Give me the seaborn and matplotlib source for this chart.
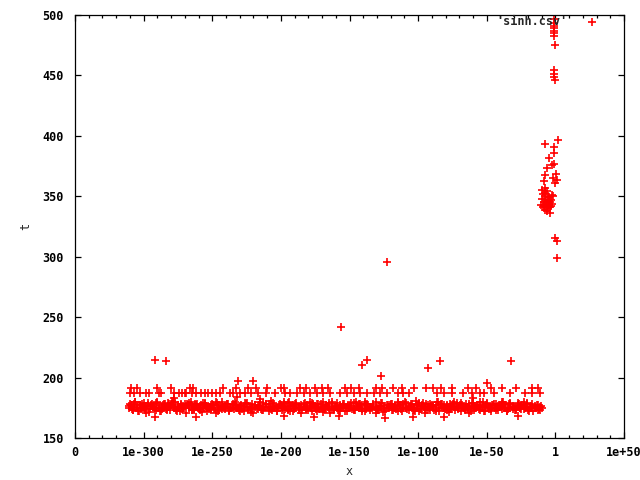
import numpy as np
import pandas as pd
import seaborn as sns
import matplotlib.pyplot as plt
from matplotlib.ticker import FixedLocator, MultipleLocator

# x is stored as log10(x): the axis runs from 1e-350 ("0") to 1e+50
tick_pos = [-350, -300, -250, -200, -150, -100, -50, 0, 50]
tick_labels = ["0", "1e-300", "1e-250", "1e-200", "1e-150", "1e-100", "1e-50", "1", "1e+50"]

# main band of timings
band_x = [-311, -310, -308, -307, -306, -304, -303, -302, -300, -299, -298, -297, -295, -294, -293, -291, -290, -289, -287, -286,
          -285, -284, -282, -281, -280, -278, -277, -276, -274, -273, -272, -271, -269, -268, -267, -265, -264, -263, -261, -260,
          -259, -258, -256, -255, -254, -252, -251, -250, -248, -247, -246, -245, -243, -242, -241, -239, -238, -237, -235, -234,
          -233, -232, -230, -229, -228, -226, -225, -224, -222, -221, -220, -219, -217, -216, -215, -213, -212, -211, -209, -208,
          -207, -206, -204, -203, -202, -200, -199, -198, -196, -195, -194, -193, -191, -190, -189, -187, -186, -185, -183, -182,
          -181, -180, -178, -177, -176, -174, -173, -172, -170, -169, -168, -167, -165, -164, -163, -161, -160, -159, -157, -156,
          -155, -154, -152, -151, -150, -148, -147, -146, -144, -143, -142, -141, -139, -138, -137, -135, -134, -133, -131, -130,
          -129, -128, -126, -125, -124, -122, -121, -120, -118, -117, -116, -115, -113, -112, -111, -109, -108, -107, -105, -104,
          -103, -102, -100, -99, -98, -96, -95, -94, -92, -91, -90, -89, -87, -86, -85, -83, -82, -81, -79, -78,
          -77, -76, -74, -73, -72, -70, -69, -68, -66, -65, -64, -63, -61, -60, -59, -57, -56, -55, -53, -52,
          -51, -50, -48, -47, -46, -44, -43, -42, -40, -39, -38, -37, -35, -34, -33, -31, -30, -29, -27, -26,
          -25, -24, -22, -21, -20, -18, -17, -16, -14, -13, -12, -11, -10]
band_t = [175, 178, 173, 176, 180, 172, 177, 174, 179, 175, 171, 177, 174, 178, 176, 173, 179, 175, 172, 177,
          176, 174, 179, 173, 177, 175, 180, 172, 176, 178, 174, 175, 171, 177, 179, 173, 176, 174, 178, 175,
          173, 177, 175, 179, 172, 176, 174, 178, 175, 171, 177, 173, 180, 176, 174, 178, 172, 175, 177, 174,
          178, 175, 172, 177, 174, 179, 176, 173, 175, 178, 171, 176, 174, 177, 180, 173, 175, 178, 172, 176,
          174, 179, 176, 172, 175, 177, 173, 178, 176, 174, 180, 172, 177, 175, 179, 173, 176, 171, 178, 174,
          177, 173, 175, 179, 176, 172, 178, 174, 176, 180, 173, 177, 175, 171, 178, 174, 176, 179, 172, 175,
          176, 178, 172, 175, 177, 174, 179, 173, 176, 178, 175, 172, 180, 174, 177, 173, 176, 178, 171, 175,
          173, 176, 179, 174, 172, 177, 175, 178, 173, 176, 174, 180, 177, 172, 175, 179, 174, 176, 178, 173,
          175, 172, 177, 179, 174, 176, 171, 178, 175, 173, 177, 176, 174, 180, 172, 178, 175, 177, 173, 176,
          178, 174, 176, 173, 179, 175, 172, 177, 174, 178, 176, 171, 175, 179, 173, 177, 174, 176, 180, 172,
          176, 179, 174, 172, 177, 175, 178, 173, 176, 174, 180, 177, 172, 175, 178, 174, 176, 173, 179, 175,
          174, 177, 175, 179, 173, 176, 178, 172, 175, 177, 174, 176, 175]

band2_x = [-309.5, -308, -306.5, -305, -303.5, -301, -299.5, -298, -296, -294.5,
           -292, -290.5, -288, -286.5, -285, -283, -281.5, -279, -277.5, -275,
           -273.5, -271, -269.5, -267, -265.5, -263, -261.5, -259, -257.5, -255,
           -253.5, -251, -249.5, -247, -245.5, -243, -241.5, -239, -237.5, -235,
           -233.5, -231, -229.5, -227, -225.5, -223, -221.5, -219, -217.5, -215,
           -213.5, -211, -209.5, -207, -205.5, -203, -201.5, -199, -197.5, -195,
           -193.5, -191, -189.5, -187, -185.5, -183, -181.5, -179, -177.5, -175,
           -173.5, -171, -169.5, -167, -165.5, -163, -161.5, -159, -157.5, -155,
           -153.5, -151, -149.5, -147, -145.5, -143, -141.5, -139, -137.5, -135,
           -133.5, -131, -129.5, -127, -125.5, -123, -121.5, -119, -117.5, -115,
           -113.5, -111, -109.5, -107, -105.5, -103, -101.5, -99, -97.5, -95,
           -93.5, -91, -89.5, -87, -85.5, -83, -81.5, -79, -77.5, -75,
           -73.5, -71, -69.5, -67, -65.5, -63, -61.5, -59, -57.5, -55,
           -53.5, -51, -49.5, -47, -45.5, -43, -41.5, -39, -37.5, -35,
           -33.5, -31, -29.5, -27, -25.5, -23, -21.5, -19, -17.5, -15,
           -13.5, -11, -10.5]
band2_t = [177.5, 173.5, 179.5, 175.5, 172.5, 178.5, 174.5, 176.5, 171.5, 177.5,
           174.5, 179.5, 172.5, 176.5, 178.5, 173.5, 175.5, 180.5, 174.5, 177.5,
           172.5, 176.5, 178.5, 174.5, 179.5, 173.5, 177.5, 175.5, 171.5, 178.5,
           175.5, 173.5, 177.5, 179.5, 172.5, 176.5, 174.5, 178.5, 173.5, 175.5,
           179.5, 174.5, 176.5, 172.5, 178.5, 175.5, 171.5, 177.5, 174.5, 176.5,
           173.5, 178.5, 175.5, 180.5, 174.5, 172.5, 177.5, 176.5, 179.5, 173.5,
           176.5, 172.5, 178.5, 174.5, 177.5, 175.5, 173.5, 179.5, 172.5, 176.5,
           178.5, 174.5, 171.5, 177.5, 175.5, 179.5, 173.5, 176.5, 174.5, 178.5,
           172.5, 177.5, 175.5, 173.5, 179.5, 174.5, 176.5, 172.5, 178.5, 175.5,
           174.5, 179.5, 173.5, 176.5, 171.5, 177.5, 175.5, 178.5, 174.5, 172.5,
           177.5, 175.5, 179.5, 173.5, 176.5, 174.5, 180.5, 172.5, 177.5, 175.5,
           173.5, 178.5, 176.5, 172.5, 179.5, 175.5, 174.5, 177.5, 171.5, 176.5,
           179.5, 174.5, 177.5, 175.5, 173.5, 178.5, 172.5, 176.5, 174.5, 179.5,
           175.5, 172.5, 178.5, 174.5, 177.5, 173.5, 176.5, 179.5, 175.5, 172.5,
           178.5, 176.5, 173.5, 177.5, 174.5, 179.5, 175.5, 172.5, 176.5, 174.5,
           177.5, 173.5, 176.5]

band3_x = [-310.7, -308.7, -306.7, -304.7, -302.7, -300.7, -298.7, -296.7, -294.7, -292.7,
           -290.7, -288.7, -286.7, -284.7, -282.7, -280.7, -278.7, -276.7, -274.7, -272.7,
           -270.7, -268.7, -266.7, -264.7, -262.7, -260.7, -258.7, -256.7, -254.7, -252.7,
           -250.7, -248.7, -246.7, -244.7, -242.7, -240.7, -238.7, -236.7, -234.7, -232.7,
           -230.7, -228.7, -226.7, -224.7, -222.7, -220.7, -218.7, -216.7, -214.7, -212.7,
           -210.7, -208.7, -206.7, -204.7, -202.7, -200.7, -198.7, -196.7, -194.7, -192.7,
           -190.7, -188.7, -186.7, -184.7, -182.7, -180.7, -178.7, -176.7, -174.7, -172.7,
           -170.7, -168.7, -166.7, -164.7, -162.7, -160.7, -158.7, -156.7, -154.7, -152.7,
           -150.7, -148.7, -146.7, -144.7, -142.7, -140.7, -138.7, -136.7, -134.7, -132.7,
           -130.7, -128.7, -126.7, -124.7, -122.7, -120.7, -118.7, -116.7, -114.7, -112.7,
           -110.7, -108.7, -106.7, -104.7, -102.7, -100.7, -98.7, -96.7, -94.7, -92.7,
           -90.7, -88.7, -86.7, -84.7, -82.7, -80.7, -78.7, -76.7, -74.7, -72.7,
           -70.7, -68.7, -66.7, -64.7, -62.7, -60.7, -58.7, -56.7, -54.7, -52.7,
           -50.7, -48.7, -46.7, -44.7, -42.7, -40.7, -38.7, -36.7, -34.7, -32.7,
           -30.7, -28.7, -26.7, -24.7, -22.7, -20.7, -18.7, -16.7, -14.7, -12.7]
band3_t = [176.2, 173.8, 178.2, 174.8, 177.2, 175.8, 173.2, 179.2, 176.8, 174.2,
           178.8, 175.2, 173.8, 177.8, 174.2, 176.2, 179.2, 173.2, 175.8, 177.2,
           174.8, 178.2, 176.2, 173.2, 177.8, 175.2, 174.2, 178.8, 176.8, 173.8,
           177.2, 174.2, 179.2, 175.8, 173.8, 176.8, 178.2, 174.8, 177.8, 175.2,
           173.2, 176.2, 174.8, 178.8, 175.8, 173.8, 177.2, 176.2, 174.2, 179.2,
           175.8, 178.2, 173.2, 176.8, 174.8, 177.8, 175.2, 173.8, 178.8, 176.2,
           174.2, 177.2, 175.8, 173.2, 179.2, 174.8, 176.8, 178.2, 173.8, 175.2,
           177.8, 173.8, 176.2, 178.8, 174.2, 175.8, 173.2, 177.2, 176.8, 174.8,
           175.2, 179.2, 174.2, 176.2, 177.8, 173.8, 178.2, 175.8, 174.8, 176.8,
           173.8, 176.8, 178.8, 174.8, 175.2, 177.2, 173.2, 176.2, 179.2, 174.2,
           178.2, 174.8, 175.8, 177.8, 173.2, 176.2, 174.2, 178.8, 175.2, 177.2,
           176.8, 173.2, 177.2, 175.2, 178.2, 174.2, 176.2, 173.8, 177.8, 175.8,
           174.2, 178.8, 175.2, 173.8, 176.8, 179.2, 174.8, 177.2, 173.2, 176.2,
           177.2, 175.8, 173.8, 178.2, 174.8, 176.2, 177.8, 175.2, 174.2, 178.8,
           175.8, 174.2, 177.8, 176.2, 173.8, 178.2, 175.2, 174.8, 176.8, 173.2]

# second level (~187) and third level (~191)
row187_x = [-310, -307, -303, -298, -296, -289, -287, -278, -274, -272, -270, -269, -265, -262, -258, -255, -253, -250,
            -247, -244, -237, -235, -230, -226, -222, -217, -211, -204, -197, -193, -188, -183, -179, -174, -169, -164,
            -157, -152, -147, -142, -137, -132, -128, -123, -115, -111, -107, -86, -81, -75, -67, -61, -55, -52, -45,
            -33, -22, -17, -11]
row191_x = [-309, -305, -290, -280, -266, -264, -242, -233, -224, -218, -210, -200, -198, -186, -182, -175, -170, -166,
            -153, -149, -143, -131, -126, -118, -112, -103, -94, -89, -83, -75, -64, -58, -47, -39, -29, -17, -13]

# scattered points around the band
stray_x = [-292, -284, -141, -137, -127, -84, -93, -32, -50, -156, -123, -231, -220, -278, -232,
           -292, -262, -198, -176, -158, -124, -104, -81, -27, -215, -60]
stray_t = [214.5, 213.7, 210.4, 214.5, 201.3, 213.7, 207.9, 213.7, 195.5, 241.8, 295.6, 197.2, 197.0, 183.0, 184.0,
           167.4, 167.5, 168.2, 167.0, 168.0, 166.5, 167.2, 167.5, 168.0, 182.5, 183.0]

# cluster near x = 1
near1_x = [-10.5, -9.8, -9.2, -8.7, -8.3, -7.9, -7.5, -7.1, -6.8, -6.4, -6.0, -5.6, -5.2, -4.8, -4.4, -4.0, -3.6,
           -3.2, -2.8, -2.4, -9.5, -8.0, -6.2, -4.6, -3.0, -7.4, -5.5,
           2.0, -7.8, -1.2, -1.2, -4.9, -6.1, -2.4, -0.7, -7.3, 0.7, -1.7, 1.2, 0.0, -8.5, -7.8, -1.7, -4.2,
           0.0, 1.2, 1.2,
           -0.7, -0.7, -0.7, -0.7, -0.7, -0.7, -0.7, 0.0, -1.2, -0.7, -1.2, -0.5]
near1_t = [343, 348, 341, 352, 345, 339, 350, 344, 347, 342, 354, 346, 340, 349, 343, 345, 341,
           347, 351, 344, 355, 342, 338, 346, 342, 353, 349,
           396.6, 393.3, 390.5, 385.5, 381.4, 373.6, 375.9, 376.5, 367.3, 368.5, 365, 363.6, 360.8, 362.6, 357, 350, 335.9,
           315.2, 313, 299.2,
           496.4, 493.6, 490.9, 489, 487, 484.8, 482.6, 475.2, 454.5, 451.2, 449, 446.2]

df = pd.DataFrame({
    "x": band_x + band2_x + band3_x + row187_x + row191_x + stray_x + near1_x,
    "t": band_t + band2_t + band3_t + [187] * len(row187_x) + [191] * len(row191_x) + stray_t + near1_t,
})

sns.set_style("ticks")
plt.rcParams["font.family"] = "DejaVu Sans Mono"
plt.rcParams["font.weight"] = "bold"
plt.rcParams["font.size"] = 8.5

fig = plt.figure(figsize=(6.4, 4.8), dpi=100)
ax = fig.add_axes([75 / 640, 42 / 480, 549 / 640, 423 / 480])

sns.scatterplot(data=df, x="x", y="t", marker="+", color="#ff0000", s=38, linewidth=1.2,
                label="'sinh.csv'", ax=ax)

ax.set_xlim(-350, 50)
ax.set_ylim(150, 500)
ax.xaxis.set_major_locator(FixedLocator(tick_pos))
ax.set_xticklabels(tick_labels)
ax.xaxis.set_minor_locator(MultipleLocator(10))
ax.yaxis.set_major_locator(MultipleLocator(50))

ax.tick_params(which="both", direction="in", top=True, right=True, colors="black", width=0.9)
ax.tick_params(which="major", length=4.5)
ax.tick_params(which="minor", length=2.3)
ax.tick_params(axis="x", pad=6)
ax.tick_params(axis="y", pad=8)
for s in ax.spines.values():
    s.set_linewidth(0.9)
    s.set_color("black")

ax.set_xlabel("x")
ax.set_ylabel("t")
ax.xaxis.set_label_coords(0.5, -0.064)
ax.yaxis.set_label_coords(-0.078, 0.5)

ax.legend(loc="upper right", bbox_to_anchor=(0.966, 1.01), frameon=False, markerfirst=False,
          borderaxespad=0, borderpad=0.4, handlelength=1.5, handletextpad=1.27)

fig.savefig("out.png", dpi=100)
